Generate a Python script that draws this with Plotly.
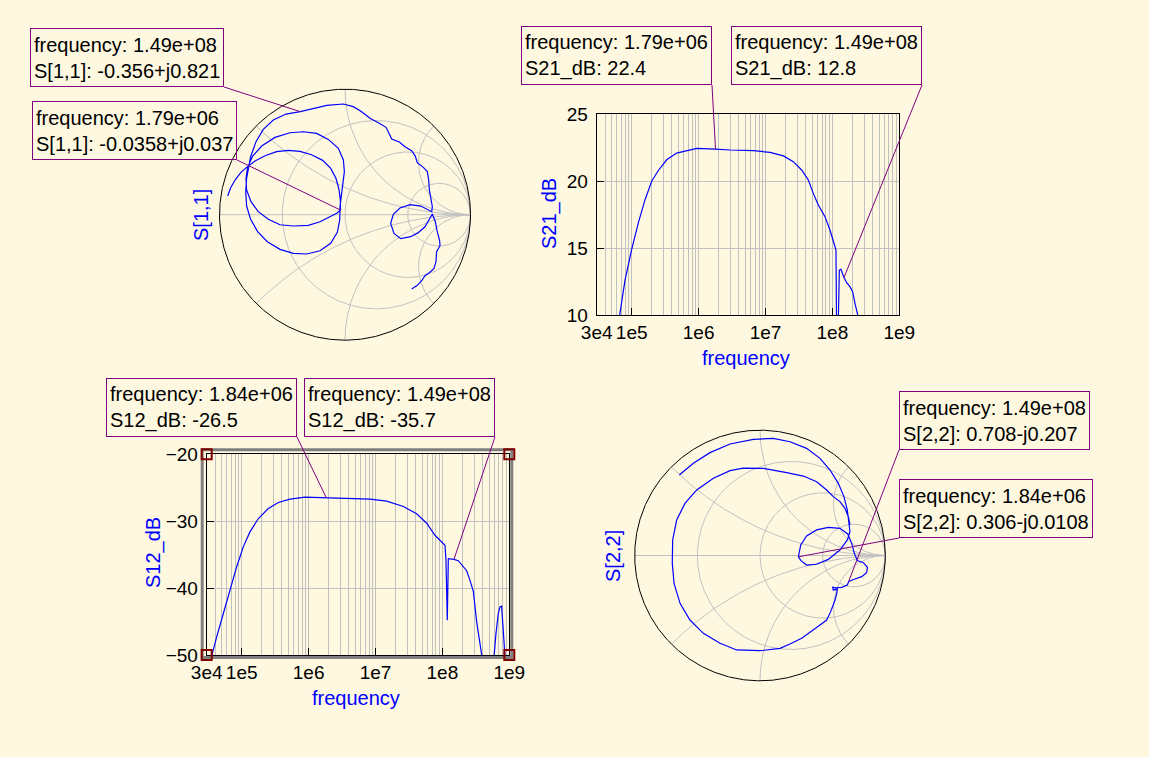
import numpy as np
import plotly.graph_objects as go

W, H = 1149, 757
BG = "#fff8e1"
FONT = "Liberation Sans"
GRID = "#c0c0c0"
BLUE = "#0000ff"
PURPLE = "#800080"
FS_TICK = 19
FS_TEXT = 20

# ---------------- data ----------------
x_tick_vals = [3e4, 1e5, 1e6, 1e7, 1e8, 1e9]
x_tick_text = ["3e4", "1e5", "1e6", "1e7", "1e8", "1e9"]
s21_ticks = [10, 15, 20, 25]
s12_ticks = [-50, -40, -30, -20]

s21_freq = [6.3e4, 7.95e4, 1.0e5, 1.26e5, 1.58e5, 1.99e5, 2.5e5, 3.34e5, 4.7e5, 6.64e5,
            9.36e5, 1.79e6, 2.95e6, 6.58e6, 1.17e7, 1.85e7, 2.61e7, 3.47e7, 4.37e7, 5.18e7,
            6.16e7, 7.75e7, 9.2e7, 1.056e8, 1.131e8, 1.155e8, 1.22e8, 1.27e8, 1.343e8, 1.49e8,
            1.633e8, 1.83e8, 2.007e8, 2.175e8, 2.384e8, 2.5e8]
s21_db = [9.3, 12.6, 14.9, 16.9, 18.6, 20.0, 20.8, 21.6, 22.1, 22.3,
          22.45, 22.4, 22.33, 22.28, 22.16, 21.89, 21.46, 20.84, 20.09, 19.09,
          18.22, 17.35, 16.35, 15.36, 14.86, 9.0, 9.0, 13.36, 13.41, 12.8,
          12.41, 12.12, 11.74, 10.87, 10.0, 9.6]

s12_freq = [3.0e4, 3.56e4, 4.23e4, 5.32e4, 6.7e4, 8.42e4, 1.06e5, 1.33e5, 1.775e5, 2.5e5,
            3.53e5, 5.28e5, 8.84e5, 1.84e6, 4.16e6, 8.28e6, 1.47e7, 2.61e7, 4.12e7, 5.82e7,
            7.75e7, 9.74e7, 1.093e8, 1.131e8, 1.158e8, 1.184e8, 1.226e8, 1.298e8, 1.49e8, 1.73e8,
            2.05e8, 2.3e8, 2.58e8, 2.9e8, 3.25e8, 3.64e8, 4.0e8, 4.3e8, 5.6e8, 5.9e8,
            6.32e8, 6.85e8, 7.25e8, 7.68e8, 7.95e8, 8.61e8, 9.0e8]
s12_db = [-53, -50, -47.3, -43.8, -40.3, -36.8, -33.8, -31.6, -29.6, -28.1,
          -27.2, -26.7, -26.4, -26.5, -26.6, -26.7, -27.0, -27.8, -28.9, -30.3,
          -32.1, -33.0, -33.6, -35.8, -39.3, -44.8, -35.6, -35.6, -35.7, -35.9,
          -36.8, -37.4, -38.8, -40.5, -45.0, -47.8, -50.0, -53, -53, -50.0,
          -46.8, -43.8, -42.8, -42.7, -44.8, -50.0, -53]

s11_re = [-0.935, -0.911, -0.876, -0.831, -0.784, -0.717, -0.637, -0.545, -0.452, -0.359,
          -0.266, -0.178, -0.114, -0.072, -0.048, -0.037, -0.0358,
          -0.066, -0.120, -0.199, -0.292, -0.412, -0.518, -0.611, -0.691, -0.749, -0.784,
          -0.789, -0.776, -0.736, -0.664, -0.558, -0.438, -0.332, -0.226, -0.133, -0.053,
          -0.013, -0.005, -0.019, -0.035, -0.040,
          -0.042, -0.061, -0.114, -0.199, -0.305, -0.412, -0.518, -0.619, -0.696, -0.752,
          -0.784, -0.791, -0.784, -0.768,
          -0.752, -0.709, -0.651, -0.571, -0.470, -0.356, -0.252, -0.146, -0.013, 0.066,
          0.133, 0.199, 0.266, 0.327, 0.353, 0.372, 0.433, 0.478, 0.531, 0.560,
          0.576, 0.624, 0.656, 0.667, 0.672, 0.683, 0.696, 0.691,
          0.603, 0.518, 0.438, 0.385, 0.364, 0.390, 0.444, 0.523, 0.584, 0.637,
          0.672, 0.696, 0.720, 0.733, 0.754, 0.757, 0.730, 0.725, 0.709, 0.672,
          0.637, 0.611, 0.576, 0.531]
s11_im = [0.149, 0.215, 0.276, 0.335, 0.377, 0.428, 0.470, 0.502, 0.513, 0.505,
          0.478, 0.433, 0.369, 0.290, 0.202, 0.117, 0.037,
          0.011, -0.016, -0.056, -0.085, -0.090, -0.080, -0.037, 0.024, 0.104, 0.197,
          0.290, 0.377, 0.467, 0.547, 0.616, 0.653, 0.661, 0.648, 0.600, 0.529,
          0.436, 0.343, 0.236, 0.143, 0.064,
          -0.042, -0.141, -0.228, -0.287, -0.313, -0.308, -0.276, -0.215, -0.135, -0.037,
          0.069, 0.183, 0.290, 0.377,
          0.462, 0.582, 0.680, 0.754, 0.802, 0.821, 0.847, 0.871, 0.882, 0.861,
          0.821, 0.768, 0.733, 0.696, 0.643, 0.603, 0.579, 0.542, 0.510, 0.467,
          0.414, 0.377, 0.343, 0.276, 0.197, 0.130, 0.064, 0.024,
          0.069, 0.080, 0.053, 0.003, -0.069, -0.149, -0.191, -0.175, -0.143, -0.096,
          -0.037, 0.005, -0.056, -0.127, -0.207, -0.247, -0.295, -0.374, -0.428, -0.462,
          -0.486, -0.526, -0.563, -0.592]

s22_re = [-0.644, -0.532, -0.399, -0.239, -0.053, 0.106, 0.239, 0.372, 0.479, 0.559,
          0.625, 0.670, 0.697, 0.710, 0.718,
          0.697, 0.638, 0.545, 0.452, 0.372, 0.327, 0.306, 0.325, 0.372, 0.452,
          0.545, 0.638, 0.700, 0.732, 0.753, 0.777,
          0.825, 0.857, 0.851, 0.811, 0.758, 0.708, 0.697, 0.652, 0.607, 0.580,
          0.585, 0.617, 0.612, 0.599, 0.564, 0.532, 0.479, 0.426, 0.333, 0.239,
          0.160, 0.0, -0.186, -0.319, -0.452, -0.559, -0.638, -0.686, -0.700, -0.697,
          -0.665, -0.599, -0.505, -0.372, -0.239, -0.133, 0.027, 0.213, 0.346, 0.452,
          0.532, 0.585, 0.638, 0.678, 0.705, 0.718]
s22_im = [0.642, 0.736, 0.821, 0.890, 0.927, 0.935, 0.908, 0.855, 0.775, 0.682,
          0.576, 0.470, 0.363, 0.270, 0.190,
          0.124, 0.044, -0.031, -0.070, -0.076, -0.041, -0.0108, 0.084, 0.156, 0.204,
          0.225, 0.217, 0.172, 0.097, 0.017, -0.041,
          -0.057, -0.094, -0.137, -0.169, -0.188, -0.207, -0.235, -0.254, -0.259, -0.254,
          -0.275, -0.270, -0.307, -0.355, -0.448, -0.515, -0.555, -0.595, -0.661, -0.706,
          -0.741, -0.760, -0.754, -0.701, -0.621, -0.515, -0.382, -0.222, -0.063, 0.124,
          0.283, 0.416, 0.523, 0.616, 0.677, 0.698, 0.696, 0.661, 0.634, 0.589,
          0.523, 0.470, 0.430, 0.376, 0.310, 0.243]

# markers
s11_mk_freq = [1.49e8, 1.79e6]
s11_mk_re = [-0.356, -0.0358]
s11_mk_im = [0.821, 0.037]
s21_mk_freq = [1.79e6, 1.49e8]
s21_mk_db = [22.4, 12.8]
s12_mk_freq = [1.84e6, 1.49e8]
s12_mk_db = [-26.5, -35.7]
s22_mk_freq = [1.49e8, 1.84e6]
s22_mk_re = [0.708, 0.306]
s22_mk_im = [-0.207, -0.0108]

# smith grid definition (Qucs style)
smith_gamma_circles = [-0.5, 0.0, 0.5]
smith_reactances = [0.4142, 1.0, 2.4142]

# ---------------- layout (pixel geometry) ----------------
LMIN, LMAX = np.log10(3e4), 9.0
S21_BOX = (596.7, 114.3, 899.3, 315.0)     # x0, ytop, x1, ybottom
S12_BOX = (206.7, 454.3, 509.3, 655.0)
S11_C = (345.0, 214.7, 125.5)              # cx, cy, R
S22_C = (760.0, 555.5, 125.3)
SM_PAD = 1.02
BOX_H = 59
PAD = 3

# marker boxes: anchor corner (x, y)
s11_corners = [(224, 87), (237, 160)]
s21_corners = [(712, 85), (922, 85)]
s12_corners = [(297, 437), (495, 437)]
s22_corners = [(899, 450), (899, 538)]


def dom_x(a, b):
    return [a / W, b / W]


def dom_y(top, bottom):
    return [1 - bottom / H, 1 - top / H]


def log_px(box, f, v, vmin, vmax):
    x0, yt, x1, yb = box
    X = x0 + (np.log10(f) - LMIN) / (LMAX - LMIN) * (x1 - x0)
    Y = yb - (v - vmin) / (vmax - vmin) * (yb - yt)
    return X, Y


def smith_px(c, re, im):
    cx, cy, R = c
    return cx + re * R, cy - im * R


def smith_grid_xy():
    xs, ys = [], []
    t = np.linspace(0, 2 * np.pi, 721)
    for g in smith_gamma_circles:
        r = (1 + g) / (1 - g)
        cc, rad = r / (1 + r), 1 / (1 + r)
        xs += list(cc + rad * np.cos(t)) + [None]
        ys += list(rad * np.sin(t)) + [None]
    tt = np.linspace(0, 2 * np.pi, 4001)
    for xv in smith_reactances:
        for s in (1, -1):
            b = s / xv
            px = 1 + abs(b) * np.cos(tt)
            py = b + abs(b) * np.sin(tt)
            inside = px ** 2 + py ** 2 <= 1.0 + 1e-9
            xs += [float(a) if m else None for a, m in zip(px, inside)] + [None]
            ys += [float(a) if m else None for a, m in zip(py, inside)] + [None]
    xs += [-1, 1, None]
    ys += [0, 0, None]
    return xs, ys


fig = go.Figure()

gx, gy = smith_grid_xy()
tc = np.linspace(0, 2 * np.pi, 721)
for ax_id in ("3", "4"):
    fig.add_trace(go.Scatter(x=gx, y=gy, mode="lines", line=dict(color=GRID, width=1),
                             xaxis="x" + ax_id, yaxis="y" + ax_id, hoverinfo="skip",
                             connectgaps=False, showlegend=False))
    fig.add_trace(go.Scatter(x=np.cos(tc), y=np.sin(tc), mode="lines",
                             line=dict(color="black", width=1),
                             xaxis="x" + ax_id, yaxis="y" + ax_id, hoverinfo="skip",
                             showlegend=False))

fig.add_trace(go.Scatter(x=s11_re, y=s11_im, mode="lines", line=dict(color=BLUE, width=1.2),
                         xaxis="x3", yaxis="y3", showlegend=False))
fig.add_trace(go.Scatter(x=s22_re, y=s22_im, mode="lines", line=dict(color=BLUE, width=1.2),
                         xaxis="x4", yaxis="y4", showlegend=False))
fig.add_trace(go.Scatter(x=s21_freq, y=s21_db, mode="lines", line=dict(color=BLUE, width=1.2),
                         xaxis="x", yaxis="y", showlegend=False))
fig.add_trace(go.Scatter(x=s12_freq, y=s12_db, mode="lines", line=dict(color=BLUE, width=1.2),
                         xaxis="x2", yaxis="y2", showlegend=False))

minor_vals = [k * 10.0 ** d for d in range(4, 9) for k in range(2, 10) if 3e4 < k * 10.0 ** d < 1e9]
tickfont = dict(family=FONT, size=FS_TICK, color="black")


def log_xaxis(box, anchor):
    return dict(type="log", range=[LMIN, LMAX], domain=dom_x(box[0], box[2]), anchor=anchor,
                tickmode="array", tickvals=x_tick_vals, ticktext=x_tick_text,
                ticks="inside", ticklen=7, tickcolor="black", tickwidth=1,
                showline=True, mirror=True, linecolor="black", linewidth=1,
                showgrid=True, gridcolor=GRID, gridwidth=1, zeroline=False,
                minor=dict(tickmode="array", tickvals=minor_vals, showgrid=True,
                           gridcolor=GRID, gridwidth=1, ticks=""),
                tickfont=tickfont, fixedrange=True, automargin=False)


def lin_yaxis(box, anchor, ticks):
    return dict(range=[min(ticks), max(ticks)], domain=dom_y(box[1], box[3]), anchor=anchor,
                tickmode="array", tickvals=ticks, ticks="inside", ticklen=7,
                tickcolor="black", tickwidth=1, showline=True, mirror=True,
                linecolor="black", linewidth=1, showgrid=True, gridcolor=GRID,
                gridwidth=1, zeroline=False, tickfont=tickfont, fixedrange=True,
                automargin=False, ticklabelstandoff=4)


def smith_axes(c, anchor):
    cx, cy, R = c
    hw = R * SM_PAD
    xa = dict(range=[-SM_PAD, SM_PAD], domain=dom_x(cx - hw, cx + hw), anchor="y" + anchor,
              visible=False, fixedrange=True, automargin=False)
    ya = dict(range=[-SM_PAD, SM_PAD], domain=dom_y(cy - hw, cy + hw), anchor="x" + anchor,
              visible=False, fixedrange=True, automargin=False)
    return xa, ya


x3, y3 = smith_axes(S11_C, "3")
x4, y4 = smith_axes(S22_C, "4")

fig.update_layout(
    width=W, height=H, autosize=False,
    margin=dict(l=0, r=0, t=0, b=0, pad=0, autoexpand=False),
    paper_bgcolor=BG, plot_bgcolor=BG, showlegend=False,
    font=dict(family=FONT, size=FS_TEXT, color="black"),
    xaxis=log_xaxis(S21_BOX, "y"), yaxis=lin_yaxis(S21_BOX, "x", s21_ticks),
    xaxis2=log_xaxis(S12_BOX, "y2"), yaxis2=lin_yaxis(S12_BOX, "x2", s12_ticks),
    xaxis3=x3, yaxis3=y3, xaxis4=x4, yaxis4=y4,
)

ann = []


def title(text, px, py, angle=0):
    ann.append(dict(text=text, xref="paper", yref="paper", x=px / W, y=1 - py / H,
                    xanchor="center", yanchor="middle", showarrow=False, textangle=angle,
                    font=dict(family=FONT, size=FS_TEXT, color=BLUE)))


title("frequency", 746, 358)
title("S21_dB", 549, 214, -90)
title("frequency", 356, 698)
title("S12_dB", 153, 553, -90)
title("S[1,1]", 201, 215, -90)
title("S[2,2]", 613, 556, -90)


def marker(text, xref, yref, x, y, hx, hy, corner, xanchor):
    tx, ty = corner
    ann.append(dict(text=text, xref=xref, yref=yref, x=x, y=y, axref="pixel", ayref="pixel",
                    ax=tx - hx, ay=ty - hy, xanchor=xanchor, yanchor="bottom", align="left",
                    valign="middle", height=BOX_H - 2 * PAD - 2,
                    showarrow=True, arrowhead=0, arrowwidth=1, arrowcolor=PURPLE, standoff=0,
                    bordercolor=PURPLE, borderwidth=1, borderpad=PAD,
                    font=dict(family=FONT, size=FS_TEXT, color="black")))


def cfmt(re, im):
    sign = "+" if im >= 0 else "-"
    return f"{re:g}{sign}j{abs(im):g}"


for f, re, im, corner in zip(s11_mk_freq, s11_mk_re, s11_mk_im, s11_corners):
    hx, hy = smith_px(S11_C, re, im)
    marker(f"frequency: {f:.2e}<br>S[1,1]: {cfmt(re, im)}", "x3", "y3", re, im,
           hx, hy, corner, "right")

for f, v, corner in zip(s21_mk_freq, s21_mk_db, s21_corners):
    hx, hy = log_px(S21_BOX, f, v, 10, 25)
    marker(f"frequency: {f:.2e}<br>S21_dB: {v:g}", "x", "y", np.log10(f), v,
           hx, hy, corner, "right")

for f, v, corner in zip(s12_mk_freq, s12_mk_db, s12_corners):
    hx, hy = log_px(S12_BOX, f, v, -50, -20)
    marker(f"frequency: {f:.2e}<br>S12_dB: {v:g}", "x2", "y2", np.log10(f), v,
           hx, hy, corner, "right")

for f, re, im, corner in zip(s22_mk_freq, s22_mk_re, s22_mk_im, s22_corners):
    hx, hy = smith_px(S22_C, re, im)
    marker(f"frequency: {f:.2e}<br>S[2,2]: {cfmt(re, im)}", "x4", "y4", re, im,
           hx, hy, corner, "left")

fig.update_layout(annotations=ann)

shapes = []
x0, yt, x1, yb = S12_BOX
shapes.append(dict(type="rect", xref="paper", yref="paper",
                   x0=(x0 - 4.5) / W, x1=(x1 + 2.5) / W, y0=1 - (yb + 2.5) / H, y1=1 - (yt - 4.5) / H,
                   line=dict(color="#808080", width=3), layer="below"))
for cx in (x0, x1):
    for cy in (yt, yb):
        shapes.append(dict(type="rect", xref="paper", yref="paper",
                           x0=(cx - 5) / W, x1=(cx + 5) / W, y0=1 - (cy + 5) / H, y1=1 - (cy - 5) / H,
                           line=dict(color="#800000", width=2)))
fig.update_layout(shapes=shapes)

fig.write_html("out.html", config={"displayModeBar": False},
               post_script="document.body.style.margin='0px';")
